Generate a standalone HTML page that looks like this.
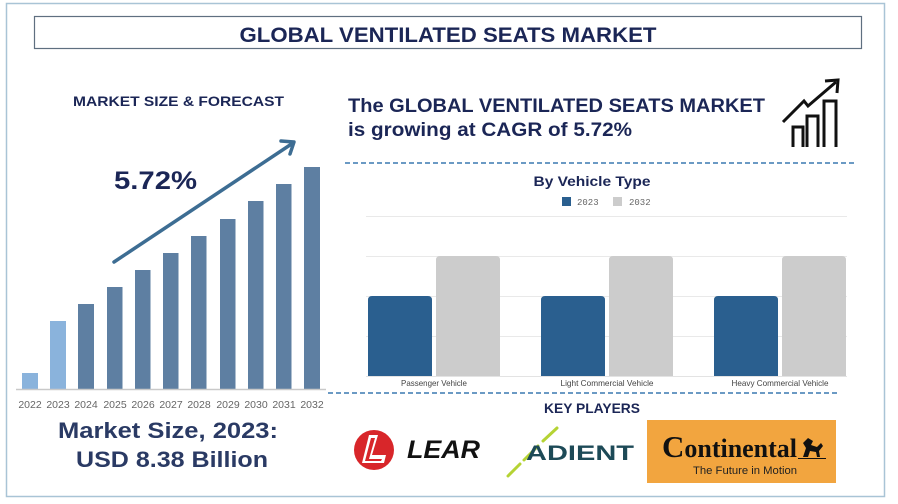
<!DOCTYPE html>
<html>
<head>
<meta charset="utf-8">
<style>
html,body{margin:0;padding:0;background:#fff;}
body{width:898px;height:504px;overflow:hidden;}
svg{display:block;}
</style>
</head>
<body>
<svg width="898" height="504" viewBox="0 0 898 504" xmlns="http://www.w3.org/2000/svg" font-family="Liberation Sans, sans-serif">
  <rect x="0" y="0" width="898" height="504" fill="#ffffff"/>
  <!-- outer border -->
  <rect x="6.5" y="3.5" width="878" height="493" fill="none" stroke="#a9c4d6" stroke-width="1.5"/>
  <!-- title box -->
  <rect x="34.5" y="16.5" width="827" height="32" fill="#ffffff" stroke="#5f6f80" stroke-width="1.2"/>
  <text x="448" y="42" text-anchor="middle" font-size="21" font-weight="bold" fill="#1b2656" textLength="417" lengthAdjust="spacingAndGlyphs">GLOBAL VENTILATED SEATS MARKET</text>

  <!-- LEFT PANEL -->
  <text x="73" y="106" font-size="14" font-weight="bold" fill="#1b2656" textLength="211" lengthAdjust="spacingAndGlyphs">MARKET SIZE &amp; FORECAST</text>

  <!-- bars -->
  <g>
    <rect x="22" y="373" width="16" height="16" fill="#8ab3dc"/>
    <rect x="50" y="321" width="16" height="68" fill="#8ab3dc"/>
    <rect x="78" y="304" width="16" height="85" fill="#5e7fa2"/>
    <rect x="107" y="287" width="15.5" height="102" fill="#5e7fa2"/>
    <rect x="135" y="270" width="15.5" height="119" fill="#5e7fa2"/>
    <rect x="163" y="253" width="15.5" height="136" fill="#5e7fa2"/>
    <rect x="191" y="236" width="15.5" height="153" fill="#5e7fa2"/>
    <rect x="220" y="219" width="15.5" height="170" fill="#5e7fa2"/>
    <rect x="248" y="201" width="15.5" height="188" fill="#5e7fa2"/>
    <rect x="276" y="184" width="15.5" height="205" fill="#5e7fa2"/>
    <rect x="304" y="167" width="16" height="222" fill="#5e7fa2"/>
  </g>
  <line x1="16" y1="389.5" x2="326" y2="389.5" stroke="#c9c9c9" stroke-width="1.5"/>
  <g font-size="10.5" fill="#666" text-anchor="middle">
    <text x="30" y="408">2022</text>
    <text x="58" y="408">2023</text>
    <text x="86" y="408">2024</text>
    <text x="115" y="408">2025</text>
    <text x="143" y="408">2026</text>
    <text x="171" y="408">2027</text>
    <text x="199" y="408">2028</text>
    <text x="228" y="408">2029</text>
    <text x="256" y="408">2030</text>
    <text x="284" y="408">2031</text>
    <text x="312" y="408">2032</text>
  </g>
  <!-- arrow -->
  <line x1="114" y1="262" x2="293" y2="143" stroke="#3d6d93" stroke-width="3.5" stroke-linecap="round"/>
  <polyline points="281,141 294,142 290,154" fill="none" stroke="#3d6d93" stroke-width="3.5" stroke-linecap="round" stroke-linejoin="round"/>
  <text x="114" y="189" font-size="25" font-weight="bold" fill="#1b2656" textLength="83" lengthAdjust="spacingAndGlyphs">5.72%</text>

  <text x="168" y="438" text-anchor="middle" font-size="22" font-weight="bold" fill="#2a3a64" textLength="220" lengthAdjust="spacingAndGlyphs">Market Size, 2023:</text>
  <text x="172" y="467" text-anchor="middle" font-size="22" font-weight="bold" fill="#2a3a64" textLength="192" lengthAdjust="spacingAndGlyphs">USD 8.38 Billion</text>

  <!-- RIGHT PANEL -->
  <text x="348" y="112" font-size="19" font-weight="bold" fill="#1b2656" textLength="417" lengthAdjust="spacingAndGlyphs">The GLOBAL VENTILATED SEATS MARKET</text>
  <text x="348" y="136" font-size="19" font-weight="bold" fill="#1b2656" textLength="284" lengthAdjust="spacingAndGlyphs">is growing at CAGR of 5.72%</text>

  <!-- icon -->
  <g fill="none" stroke="#111" stroke-width="3" stroke-linejoin="miter">
    <path d="M793 147 V127 H803 V147"/>
    <path d="M807 147 V116 H818 V147"/>
    <path d="M824 147 V101 H836 V147"/>
    <path d="M783 122 L804 101 L808 106 L836 82"/>
    <path d="M825 81 L838 80 L837 93"/>
  </g>

  <!-- dashed line 1 -->
  <line x1="345" y1="163" x2="855" y2="163" stroke="#3a78b0" stroke-width="1.5" stroke-dasharray="5,3"/>

  <text x="592" y="186" text-anchor="middle" font-size="14" font-weight="bold" fill="#1b2656" textLength="117" lengthAdjust="spacingAndGlyphs">By Vehicle Type</text>
  <rect x="562" y="197" width="9" height="9" fill="#2a5f8f"/>
  <text x="577" y="205" font-family="Liberation Mono, monospace" font-size="9" fill="#666">2023</text>
  <rect x="613" y="197" width="9" height="9" fill="#cccccc"/>
  <text x="629" y="205" font-family="Liberation Mono, monospace" font-size="9" fill="#666">2032</text>

  <!-- gridlines -->
  <g stroke="#e9e9e9" stroke-width="1">
    <line x1="366" y1="216.5" x2="847" y2="216.5"/>
    <line x1="366" y1="256.5" x2="847" y2="256.5"/>
    <line x1="366" y1="296.5" x2="847" y2="296.5"/>
    <line x1="366" y1="336.5" x2="847" y2="336.5"/>
  </g>
  <!-- grouped bars -->
  <g>
    <path d="M368 376 V300 Q368 296 372 296 H428 Q432 296 432 300 V376 Z" fill="#2a5f8f"/>
    <path d="M436 376 V260 Q436 256 440 256 H496 Q500 256 500 260 V376 Z" fill="#cccccc"/>
    <path d="M541 376 V300 Q541 296 545 296 H601 Q605 296 605 300 V376 Z" fill="#2a5f8f"/>
    <path d="M609 376 V260 Q609 256 613 256 H669 Q673 256 673 260 V376 Z" fill="#cccccc"/>
    <path d="M714 376 V300 Q714 296 718 296 H774 Q778 296 778 300 V376 Z" fill="#2a5f8f"/>
    <path d="M782 376 V260 Q782 256 786 256 H842 Q846 256 846 260 V376 Z" fill="#cccccc"/>
  </g>
  <line x1="366" y1="376.5" x2="847" y2="376.5" stroke="#e3e3e3" stroke-width="1"/>
  <g font-size="8.5" fill="#444" text-anchor="middle">
    <text x="434" y="386" textLength="66" lengthAdjust="spacingAndGlyphs">Passenger Vehicle</text>
    <text x="607" y="386" textLength="93" lengthAdjust="spacingAndGlyphs">Light Commercial Vehicle</text>
    <text x="780" y="386" textLength="97" lengthAdjust="spacingAndGlyphs">Heavy Commercial Vehicle</text>
  </g>

  <!-- dashed line 2 -->
  <line x1="328" y1="393" x2="838" y2="393" stroke="#3a78b0" stroke-width="1.5" stroke-dasharray="5,3"/>

  <text x="592" y="413" text-anchor="middle" font-size="14" font-weight="bold" fill="#1b2656" textLength="96" lengthAdjust="spacingAndGlyphs">KEY PLAYERS</text>

  <!-- LEAR -->
  <circle cx="374" cy="450" r="20" fill="#d8262a"/>
  <path d="M369 435 L378 435 L372 455 L386 455 L384 463 L362 463 Z" fill="#ffffff"/>
  <path d="M371 438 L375 438 L369 459 L382 459 L381 461 L365 461 Z" fill="#d8262a"/>
  <text x="407" y="458" font-size="25" font-weight="bold" font-style="italic" fill="#111" textLength="73" lengthAdjust="spacingAndGlyphs">LEAR</text>

  <!-- ADIENT -->
  <g stroke="#b5d334" stroke-width="3" stroke-linecap="round">
    <line x1="508" y1="476" x2="520" y2="464"/>
    <line x1="524" y1="460" x2="538" y2="446"/>
    <line x1="543" y1="441" x2="557" y2="428"/>
  </g>
  <text x="526" y="460" font-size="21" font-weight="bold" fill="#1d4a57" textLength="108" lengthAdjust="spacingAndGlyphs">ADIENT</text>

  <!-- Continental -->
  <rect x="647" y="420" width="189" height="63" fill="#f2a53f"/>
  <text x="662" y="457" font-family="Liberation Serif, serif" font-weight="bold" fill="#111" textLength="135" lengthAdjust="spacingAndGlyphs"><tspan font-size="31">C</tspan><tspan font-size="26">ontinental</tspan></text>
  <path d="M803 457 L806 448 L803 443 L808 438 L813 441 L811 445 L817 447 L821 443 L823 446 L819 451 L820 457 L817 457 L816 452 L810 451 L808 457 Z" fill="#111"/>
  <line x1="798" y1="458.5" x2="826" y2="458.5" stroke="#111" stroke-width="1"/>
  <text x="745" y="474" text-anchor="middle" font-size="11" fill="#222" textLength="104" lengthAdjust="spacingAndGlyphs">The Future in Motion</text>
</svg>
</body>
</html>
